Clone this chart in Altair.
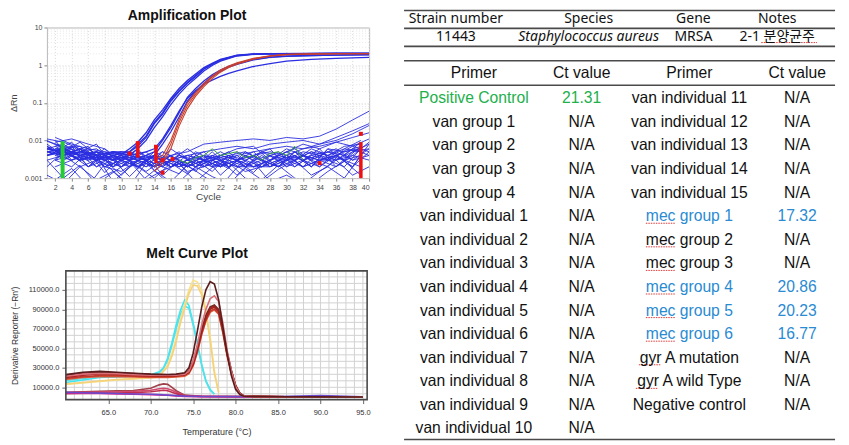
import altair as alt
import pandas as pd

# ---------------- Amplification plot data (ΔRn) ----------------
ODD = [1, 3, 5, 7, 9, 11, 13, 15, 17, 19, 21, 23, 25, 27, 29, 31, 33, 35, 37, 39]
EVEN = [2, 4, 6, 8, 10, 12, 14, 16, 18, 20, 22, 24, 26, 28, 30, 32, 34, 36, 38, 40]

# background wells, values in thousandths of ΔRn
NOISE_ODD = [
    [9.5, 7, 5, 6, 3, 4, 2, 5, 3, 1.5, 4, 3, 2, 5, 3, 4, 2, 6, 3, 7],
    [6, 8, 4, 2, 4, 3, 5, 2, 4, 3, 2, 4, 3, 2, 4, 6, 3, 5, 4, 9],
    [10, 6, 7, 3, 2, 5, 3, 4, 2, 5, 3, 1.8, 5, 3, 2, 3, 6, 4, 7, 8],
    [4, 5, 9, 4, 3, 2, 4, 1.2, 3, 2, 5, 2, 4, 3, 5, 2, 4, 3, 5, 6],
    [7, 3, 5, 8, 2, 3, 1.5, 3, 5, 2, 3, 5, 2, 4, 2, 5, 3, 2, 6, 5],
    [3, 4, 2, 3, 4, 2, 3, 2, 1.3, 4, 2, 3, 1.5, 2, 3, 2, 4, 5, 3, 4],
    [11, 9, 6, 4, 5, 3, 2, 3, 2, 3, 4, 2, 3, 5, 4, 3, 5, 4, 6, 10],
    [5, 6, 3, 5, 2, 4, 3, 5, 3, 2, 3, 4, 5, 3, 2, 4, 2, 6, 5, 7],
    [8, 4, 6, 2, 3, 1.1, 3, 2, 4, 2.5, 3, 2, 4, 2, 3, 3, 5, 3, 2, 6],
    [2, 5, 3, 4, 0.8, 2, 4, 3, 2, 3, 1.5, 4, 2, 3, 2, 5, 2, 4, 3, 2],
    [1.2, 0.7, 2, 0.9, 1.5, 0.6, 2.5, 1, 0.8, 2, 1.1, 0.7, 1.8, 0.9, 2.2, 1, 0.7, 1.5, 2.8, 1.2],
    [3, 1, 2.2, 0.7, 1.4, 2.8, 0.9, 1.6, 2.4, 0.8, 1.9, 2.6, 1, 0.8, 1.7, 3, 1.2, 2, 1, 4],
]
NOISE_EVEN = [
    [2, 3, 4, 2, 1.5, 3, 2, 3, 2, 4, 1.2, 3, 2, 3, 4, 2, 3, 2, 4, 3],
    [8, 5, 7, 2, 3, 2, 4, 3, 6, 3, 2, 3, 2, 2, 3, 4, 3, 4, 2, 5],
    [6, 7, 4, 3, 5, 4, 2, 4, 2, 3, 5, 3, 4, 2, 3, 5, 4, 3, 5, 8],
    [12, 8, 6, 5, 4, 3, 4, 2, 3, 2, 3, 2, 2, 3, 5, 3, 2, 5, 3, 6],
    [5, 9, 3, 6, 2, 5, 3, 2, 4, 3, 2, 5, 3, 4, 3, 2, 5, 3, 4, 9],
    [3, 2, 5, 1.4, 4, 2, 5, 3, 2, 4, 3, 2, 4, 6, 2, 3, 4, 6, 3, 4],
    [7, 4, 6, 3, 2, 4, 2, 6, 3, 2, 4, 3, 5, 2, 4, 3, 6, 2, 5, 6],
    [4, 6, 2, 4, 5, 1.8, 4, 2, 3, 5, 2, 4, 2, 3, 6, 4, 2, 4, 7, 5],
    [10, 3, 5, 3, 1.2, 3, 2, 4, 1.5, 2, 3, 1.2, 3, 2, 4, 2, 3, 4, 2, 8],
    [3, 7, 2, 5, 3, 6, 1.6, 3, 2, 3, 2, 3, 1.4, 4, 2, 4, 3, 3, 6, 4],
    [0.9, 1.8, 0.6, 2.4, 1, 0.7, 1.6, 0.8, 2.2, 1.1, 0.6, 1.9, 2.7, 0.8, 1.2, 0.7, 1.5, 3, 1.2, 2],
    [9, 11, 8, 6, 3, 2, 1, 2.5, 1.3, 3, 4, 6, 7, 3, 5, 8, 6, 9, 7, 11],
]
RISING_EVEN = [
    [5, 4, 3, 4, 3, 2, 3, 4, 5, 8, 9, 10, 11, 10, 12, 11, 13, 20, 35, 60],
    [4, 3, 5, 2, 3, 4, 2, 3, 4, 5, 6, 7, 6, 8, 9, 10, 8, 12, 18, 28],
    [6, 5, 4, 3, 2, 3, 4, 2, 3, 4, 3, 4, 5, 6, 7, 6, 8, 10, 15, 25],
    [3, 4, 2, 3, 4, 3, 2, 3, 4, 3, 4, 3, 4, 5, 4, 6, 7, 9, 12, 16],
]
GREEN_CYCLES = [17, 18, 19, 20, 21, 22, 23, 24, 25, 26, 27, 28, 29, 30, 31, 32]
GREEN_VALUES = [3, 2.5, 3.5, 4, 6, 4, 4.5, 5, 3.5, 4, 3, 4.5, 5, 4, 7, 3]

# amplified wells (ΔRn)
AMP_A_CYCLES = [1, 3, 5, 7, 9, 11, 12, 13, 14, 15, 16, 17, 18, 19, 20, 21, 22, 24, 26, 28, 32, 36, 40]
AMP_A = [
    [0.006, 0.005, 0.004, 0.005, 0.004, 0.005, 0.007, 0.012, 0.028, 0.05, 0.11, 0.2, 0.33, 0.5, 0.78, 1.05, 1.35, 1.8, 1.95, 2.0, 2.02, 2.04, 2.05],
    [0.005, 0.006, 0.004, 0.003, 0.005, 0.004, 0.006, 0.01, 0.022, 0.042, 0.09, 0.17, 0.29, 0.45, 0.7, 0.98, 1.28, 1.75, 1.92, 1.98, 2.0, 2.02, 2.03],
    [0.007, 0.004, 0.005, 0.004, 0.003, 0.006, 0.009, 0.016, 0.035, 0.065, 0.13, 0.24, 0.39, 0.58, 0.86, 1.12, 1.42, 1.85, 1.98, 2.02, 2.05, 2.07, 2.08],
    [0.004, 0.005, 0.003, 0.004, 0.005, 0.005, 0.008, 0.013, 0.03, 0.055, 0.12, 0.21, 0.35, 0.53, 0.8, 1.08, 1.38, 1.82, 1.96, 2.0, 2.03, 2.05, 2.06],
]
AMP_B_CYCLES = [1, 3, 5, 7, 9, 11, 13, 14, 15, 16, 17, 18, 19, 20, 21, 22, 23, 24, 26, 28, 30, 33, 36, 40]
AMP_B = [
    [0.005, 0.004, 0.006, 0.003, 0.004, 0.003, 0.004, 0.005, 0.01, 0.022, 0.055, 0.14, 0.24, 0.38, 0.55, 0.74, 0.93, 1.1, 1.42, 1.63, 1.73, 1.8, 1.85, 1.9],
    [0.004, 0.006, 0.004, 0.005, 0.003, 0.004, 0.005, 0.006, 0.011, 0.025, 0.06, 0.13, 0.21, 0.31, 0.4, 0.5, 0.6, 0.7, 0.92, 1.1, 1.27, 1.42, 1.52, 1.6],
    [0.006, 0.005, 0.003, 0.004, 0.005, 0.004, 0.003, 0.004, 0.008, 0.017, 0.042, 0.11, 0.2, 0.33, 0.5, 0.68, 0.88, 1.05, 1.38, 1.6, 1.72, 1.8, 1.84, 1.88],
]
AMP_R_CYCLES = [14, 15, 16, 17, 18, 19, 20, 21, 22, 23, 24, 26, 28, 30, 33, 36, 40]
AMP_R = [
    [0.002, 0.003, 0.008, 0.03, 0.085, 0.17, 0.3, 0.48, 0.7, 0.9, 1.1, 1.48, 1.74, 1.92, 1.98, 2.0, 2.02],
    [0.0015, 0.0025, 0.006, 0.024, 0.07, 0.15, 0.27, 0.44, 0.65, 0.86, 1.05, 1.44, 1.72, 1.9, 1.97, 2.0, 2.01],
    [0.003, 0.004, 0.01, 0.036, 0.1, 0.19, 0.33, 0.52, 0.74, 0.95, 1.15, 1.52, 1.77, 1.93, 1.99, 2.01, 2.03],
]
# Ct markers
RED_BAR_CYCLES = [12, 14.2, 39]
RED_BAR_LOW = [0.0035, 0.0025, 0.001]
RED_BAR_HIGH = [0.0085, 0.0065, 0.009]
RED_SQ_CYCLES = [11, 12, 14.2, 15, 15, 16.2, 34, 39]
RED_SQ_VALUES = [0.0045, 0.0085, 0.0068, 0.003, 0.0014, 0.0032, 0.0025, 0.015]
GREEN_BAR_CYCLE = [2.9]
GREEN_BAR_LOW = [0.001]
GREEN_BAR_HIGH = [0.0095]

# ---------------- Melt curve data (Derivative reporter) ----------------
MAIN_T = [60, 62, 64, 66, 68, 70, 72, 73, 74, 74.5, 75, 75.5, 76, 76.5, 77, 77.5, 78, 78.5, 79, 79.5, 80, 80.5, 81, 83, 86, 90, 95]
MAIN_CURVES = {
    "m_orange": [18000, 20000, 21000, 21000, 20500, 20000, 20000, 20500, 21500, 24000, 32000, 46000, 64000, 78000, 87000, 89500, 85000, 66000, 42000, 24000, 10000, 3200, 800, 500, 300, 200, 100],
    "m3": [19000, 21000, 22000, 22000, 21500, 21000, 21000, 21500, 22500, 25000, 33000, 47000, 65000, 79000, 88000, 90500, 86000, 67000, 43000, 25000, 11000, 3500, 900, 500, 300, 200, 100],
    "m2": [21000, 23000, 24000, 23500, 22500, 22000, 21800, 22000, 23000, 25500, 34000, 49000, 67000, 81000, 90000, 92500, 88000, 69000, 44000, 26000, 11500, 3800, 900, 500, 300, 200, 100],
    "m1": [20000, 22500, 24300, 24000, 23200, 23000, 22800, 22900, 23500, 26000, 35000, 50000, 68000, 82000, 91000, 93500, 89000, 70000, 45000, 27000, 12000, 4000, 1000, 500, 300, 200, 100],
    "m7": [22000, 24500, 25500, 25000, 24000, 23000, 22500, 22800, 23800, 27000, 37000, 52000, 70000, 84000, 92500, 94500, 90000, 71000, 46000, 27500, 12000, 4000, 1000, 500, 300, 200, 100],
    "m_pink": [21500, 23500, 24500, 24000, 23000, 22500, 22300, 22500, 23500, 26500, 37000, 54000, 74000, 90000, 101000, 104000, 98000, 76000, 48000, 27000, 11000, 3500, 900, 500, 300, 200, 100],
    "m_dark": [23000, 25500, 26400, 25500, 24500, 23500, 23200, 23500, 25000, 30000, 45000, 68000, 92000, 110000, 118500, 116000, 100000, 72000, 45000, 22000, 8000, 2500, 800, 500, 300, 200, 100],
}
MAIN_COLORS = {"m_orange": "#e2603c", "m3": "#c0392b", "m2": "#a51d1d", "m1": "#b22222",
               "m7": "#7a2a22", "m_pink": "#d8707a", "m_dark": "#5a1c1c"}
CYAN_T = [60, 62, 64, 66, 68, 70, 71, 71.5, 72, 72.5, 73, 73.5, 74, 74.5, 75, 75.5, 76, 76.5, 77, 77.5]
CYAN_CURVES = {
    "c1": [15000, 17500, 20000, 21000, 21300, 23000, 26000, 30000, 40000, 56000, 74000, 89000, 99500, 94000, 76000, 56000, 34000, 17000, 8000, 3200],
    "c2": [17000, 19000, 20500, 21000, 21500, 22500, 25000, 29000, 38000, 53000, 70000, 85000, 93500, 91000, 74000, 54000, 32000, 16000, 7000, 3000],
}
CYAN_COLORS = {"c1": "#3ee8f0", "c2": "#55e0ea"}
YELLOW_T = [60, 62, 64, 66, 68, 70, 71, 72, 72.5, 73, 73.5, 74, 74.5, 75, 75.5, 76, 76.5, 77, 77.5, 78]
YELLOW_CURVES = {
    "y1": [12800, 14500, 16000, 17500, 18600, 19500, 21000, 33000, 45000, 60000, 80000, 95000, 110000, 120000, 118000, 109000, 90000, 62000, 27000, 5000],
    "y2": [13500, 15000, 16500, 18000, 19000, 20000, 21500, 31000, 42000, 57000, 76000, 91000, 106000, 115000, 114000, 105000, 86000, 58000, 24000, 4500],
}
YELLOW_COLORS = {"y1": "#f8e08c", "y2": "#f5d27a"}
LOW_T = [60, 62, 64, 66, 68, 70, 71, 71.5, 72, 72.5, 73, 74, 76, 80, 85, 90, 95]
LOW_CURVES = {
    "l1": [5000, 5500, 6000, 6300, 6800, 9000, 12500, 13500, 13000, 10000, 6500, 2000, 800, 500, 300, 200, 100],
    "l2": [4500, 5000, 5200, 5500, 6000, 7000, 8500, 9000, 8500, 7000, 5000, 1500, 600, 400, 300, 200, 100],
    "l3": [3500, 3800, 4000, 4200, 4500, 5500, 6500, 7000, 6500, 5000, 3500, 1200, 500, 400, 300, 200, 100],
    "l4": [4300, 4000, 3600, 3300, 3000, 2500, 2200, 2000, 1800, 1500, 1200, 700, 400, 300, 200, 150, 100],
    "l5": [4800, 4400, 4000, 3600, 3200, 2800, 2500, 2200, 2000, 1800, 1500, 900, 500, 400, 500, 1500, 300],
}
LOW_COLORS = {"l1": "#a0404a", "l2": "#d04a70", "l3": "#c03050", "l4": "#e8208c", "l5": "#6a4ac8"}

# ---------------- Table data ----------------
TOP_HEADERS = ["Strain number", "Species", "Gene", "Notes"]
TOP_ROW = ["11443", "Staphylococcus aureus", "MRSA", "2-1 분양균주"]
TABLE_HEADERS = ["Primer", "Ct value", "Primer", "Ct value"]
PRIMERS_LEFT = ["Positive Control", "van group 1", "van group 2", "van group 3", "van group 4",
                "van individual 1", "van individual 2", "van individual 3", "van individual 4",
                "van individual 5", "van individual 6", "van individual 7", "van individual 8",
                "van individual 9", "van individual 10"]
CT_LEFT = ["21.31"] + ["N/A"] * 14
PRIMERS_RIGHT = ["van individual 11", "van individual 12", "van individual 13", "van individual 14",
                 "van individual 15", "mec group 1", "mec group 2", "mec group 3", "mec group 4",
                 "mec group 5", "mec group 6", "gyr A mutation", "gyr A wild Type", "Negative control"]
CT_RIGHT = ["N/A", "N/A", "N/A", "N/A", "N/A", "17.32", "N/A", "N/A", "20.86", "20.23", "16.77",
            "N/A", "N/A", "N/A"]

GREEN = "#22b04c"
BLUE_TXT = "#2a8ad2"
LINE_BLUE = "#2a2ee0"
LINE_RED = "#c8402e"
AX_FONT = "Liberation Sans"

# ================= Amplification chart =================
def long_df(xs_list, vals_list, xname, yname, scale=1.0, prefix="s"):
    rows = []
    for i, (xs, vals) in enumerate(zip(xs_list, vals_list)):
        for k, (x, v) in enumerate(zip(xs, vals)):
            rows.append({"series": f"{prefix}{i}", xname: x, yname: v * scale, "k": k})
    return pd.DataFrame(rows)

noise_df = pd.concat([
    long_df([ODD] * len(NOISE_ODD), NOISE_ODD, "cycle", "drn", 0.001, "o"),
    long_df([EVEN] * len(NOISE_EVEN), NOISE_EVEN, "cycle", "drn", 0.001, "e"),
    long_df([EVEN] * len(RISING_EVEN), RISING_EVEN, "cycle", "drn", 0.001, "r"),
])
green_df = long_df([GREEN_CYCLES], [GREEN_VALUES], "cycle", "drn", 0.001, "g")
blue_amp_df = pd.concat([
    long_df([AMP_A_CYCLES] * len(AMP_A), AMP_A, "cycle", "drn", 1.0, "a"),
    long_df([AMP_B_CYCLES] * len(AMP_B), AMP_B, "cycle", "drn", 1.0, "b"),
])
red_amp_df = long_df([AMP_R_CYCLES] * len(AMP_R), AMP_R, "cycle", "drn", 1.0, "red")

amp_x = alt.X("cycle:Q", scale=alt.Scale(domain=[1, 40], nice=False, zero=False),
              axis=alt.Axis(values=EVEN, tickCount=100, format="d", title="Cycle",
                            labelFont=AX_FONT, labelFontSize=7, labelColor="#444",
                            titleFont=AX_FONT, titleFontSize=10, titleColor="#444", titleFontWeight="normal",
                            titlePadding=1, tickSize=3, labelPadding=2, labelOverlap=False,
                            domain=False, tickColor="#888",
                            grid=True, gridColor="#d8d8d8", gridDash=[1, 2]))
amp_y = alt.Y("drn:Q", scale=alt.Scale(type="log", domain=[0.001, 10], nice=False),
              axis=alt.Axis(values=[0.001, 0.01, 0.1, 1, 10], tickCount=100, title="ΔRn", format="~g",
                            labelFont=AX_FONT, labelFontSize=7, labelColor="#444",
                            titleFont=AX_FONT, titleFontSize=9, titleColor="#444", titleFontWeight="normal",
                            titlePadding=6, tickSize=3, labelPadding=2, labelOverlap=False,
                            domain=False, tickColor="#888",
                            grid=True, gridColor="#d8d8d8", gridDash=[1, 2]))

# minor (log) grid lines between decades
amp_minor_df = pd.DataFrame({"drn": [m * d for d in [0.001, 0.01, 0.1, 1] for m in range(2, 10)]})
amp_minor = alt.Chart(amp_minor_df).mark_rule(color="#e6e6e6", strokeWidth=1, strokeDash=[1, 2]).encode(
    y=amp_y)
noise_layer = alt.Chart(noise_df).mark_line(color=LINE_BLUE, strokeWidth=0.9, clip=True).encode(
    x=amp_x, y="drn:Q", detail="series:N", order="k:Q")
green_layer = alt.Chart(green_df).mark_line(color="#3aa040", strokeWidth=1, clip=True).encode(
    x="cycle:Q", y="drn:Q", detail="series:N", order="k:Q")
blue_layer = alt.Chart(blue_amp_df).mark_line(color=LINE_BLUE, strokeWidth=1.3, clip=True).encode(
    x="cycle:Q", y="drn:Q", detail="series:N", order="k:Q")
red_layer = alt.Chart(red_amp_df).mark_line(color=LINE_RED, strokeWidth=1.1, clip=True).encode(
    x="cycle:Q", y="drn:Q", detail="series:N", order="k:Q")
redbar_df = pd.DataFrame({"cycle": RED_BAR_CYCLES, "drn": RED_BAR_LOW, "drn2": RED_BAR_HIGH})
redbar_layer = alt.Chart(redbar_df).mark_rule(color="#ee1111", strokeWidth=3.5).encode(
    x="cycle:Q", y="drn:Q", y2="drn2:Q")
greenbar_df = pd.DataFrame({"cycle": GREEN_BAR_CYCLE, "drn": GREEN_BAR_LOW, "drn2": GREEN_BAR_HIGH})
greenbar_layer = alt.Chart(greenbar_df).mark_rule(color="#22cc33", strokeWidth=4).encode(
    x="cycle:Q", y="drn:Q", y2="drn2:Q")
redsq_df = pd.DataFrame({"cycle": RED_SQ_CYCLES, "drn": RED_SQ_VALUES})
redsq_layer = alt.Chart(redsq_df).mark_square(color="#ee1111", opacity=1, size=16).encode(
    x="cycle:Q", y="drn:Q")

amp = alt.layer(amp_minor, noise_layer, green_layer, blue_layer, red_layer, greenbar_layer,
                redbar_layer, redsq_layer).properties(
    width=323, height=151,
    title=alt.TitleParams("Amplification Plot", font=AX_FONT, fontSize=14, fontWeight="bold",
                          color="#111", offset=0, dx=-21),
    view=alt.ViewBackground(stroke="#b8b8b8", strokeWidth=1),
)

# ================= Melt curve chart =================
def melt_df_of(temps, curves, colors):
    rows = []
    for name, vals in curves.items():
        for k, (t, v) in enumerate(zip(temps, vals)):
            rows.append({"series": name, "temp": t, "deriv": v, "k": k, "clr": colors[name]})
    return pd.DataFrame(rows)

MELT_X_DOMAIN = [60, 95.5]
MELT_Y_DOMAIN = [-2600, 129500]
MELT_SHIFT = 19   # the melt plot sits further right than the amplification plot
MELT_W = 321

melt_x = alt.X("temp:Q", scale=alt.Scale(domain=MELT_X_DOMAIN, range=[MELT_SHIFT, MELT_W], nice=False, zero=False),
               axis=alt.Axis(values=[65, 70, 75, 80, 85, 90, 95], tickCount=100, title="Temperature (°C)",
                             format=".1f",
                             labelFont=AX_FONT, labelFontSize=7.5, labelColor="#333",
                             titleFont=AX_FONT, titleFontSize=9, titleColor="#333", titleFontWeight="normal",
                             titlePadding=12, tickSize=4, labelPadding=5, labelOverlap=False,
                             domain=False, tickColor="#666", grid=False))
melt_y = alt.Y("deriv:Q", scale=alt.Scale(domain=MELT_Y_DOMAIN, nice=False, zero=False),
               axis=alt.Axis(values=[10000, 30000, 50000, 70000, 90000, 110000], tickCount=100,
                             title="Derivative Reporter (−Rn′)", format=".1f", offset=-MELT_SHIFT,
                             labelFont=AX_FONT, labelFontSize=7.5, labelColor="#333",
                             titleFont=AX_FONT, titleFontSize=8.5, titleColor="#333", titleFontWeight="normal",
                             titlePadding=9, tickSize=4, labelPadding=3, labelOverlap=False,
                             domain=False, tickColor="#666", grid=False))

# grid lines every degree and every third of 20000
vgrid_df = pd.DataFrame({"temp": list(range(61, 96))})
hgrid_df = pd.DataFrame({"deriv": [10000 + k * 20000 / 3 for k in range(-1, 18)]})
hgrid_df["t0"] = MELT_X_DOMAIN[0]
hgrid_df["t1"] = MELT_X_DOMAIN[1]
frame_df = pd.DataFrame({"temp": [MELT_X_DOMAIN[0]], "temp2": [MELT_X_DOMAIN[1]],
                         "deriv": [MELT_Y_DOMAIN[0]], "deriv2": [MELT_Y_DOMAIN[1]]})

vgrid = alt.Chart(vgrid_df).mark_rule(color="#d2d2d2", strokeWidth=1).encode(x=melt_x)
hgrid = alt.Chart(hgrid_df).mark_rule(color="#d2d2d2", strokeWidth=1).encode(
    x=alt.X("t0:Q"), x2="t1:Q", y=melt_y)
frame = alt.Chart(frame_df).mark_rect(fillOpacity=0, stroke="#4a4a4a", strokeWidth=1.6).encode(
    x="temp:Q", x2="temp2:Q", y="deriv:Q", y2="deriv2:Q")

def melt_layer(df):
    return alt.Chart(df).mark_line(strokeWidth=1.6, clip=True).encode(
        x="temp:Q", y="deriv:Q",
        color=alt.Color("clr:N", scale=None),
        detail="series:N",
        order="k:Q",
    )

melt = alt.layer(
    vgrid, hgrid,
    melt_layer(melt_df_of(LOW_T, LOW_CURVES, LOW_COLORS)),
    melt_layer(melt_df_of(CYAN_T, CYAN_CURVES, CYAN_COLORS)),
    melt_layer(melt_df_of(YELLOW_T, YELLOW_CURVES, YELLOW_COLORS)),
    melt_layer(melt_df_of(MAIN_T, MAIN_CURVES, MAIN_COLORS)),
    frame,
).properties(
    width=MELT_W, height=129,
    title=alt.TitleParams("Melt Curve Plot", font=AX_FONT, fontSize=14, fontWeight="bold",
                          color="#111", offset=9, dx=-10),
    view=alt.ViewBackground(stroke="transparent"),
)

# ================= Table =================
# layout: second-table columns at 0..3, rows at 0..14; other positions in the same units
TOP_COL_X = [-0.167, 1.065, 2.037, 2.815]
TOP_HEAD_Y, TOP_ROW_Y, HEAD_Y = -3.34, -2.58, -1.06
LINE_Y = [-3.72, -2.96, -2.20, -1.59, -0.55, 14.47]
LINE_X0, LINE_X1 = -0.648, 3.352
TABLE_TOP_ROW = -3.0     # row value at the top of the table's plot area (level with the amplification plot)
TABLE_BOTTOM_ROW = 14.51
ROW_PX = 23.64

# red spell-check underlines (word spans in column units) under "mec", "gyr" and "분양균주"
SPELL_ROWS = [5, 6, 7, 8, 9, 10, 11, 12, TOP_ROW_Y]
SPELL_X0 = [1.596, 1.596, 1.596, 1.596, 1.596, 1.596, 1.531, 1.503, 2.667]
SPELL_X1 = [1.871, 1.871, 1.871, 1.871, 1.871, 1.871, 1.733, 1.705, 3.185]
SPELL_DY = [0.3, 0.3, 0.3, 0.3, 0.3, 0.3, 0.3, 0.3, 0.22]

tx = alt.X("x:Q", scale=alt.Scale(domain=[-0.676, 3.398], nice=False, zero=False), axis=None)
ty = alt.Y("y:Q", scale=alt.Scale(domain=[TABLE_TOP_ROW, TABLE_BOTTOM_ROW], nice=False, zero=False, reverse=True),
           axis=None)

lines_df = pd.DataFrame({"y": LINE_Y, "x": [LINE_X0] * len(LINE_Y), "x2": [LINE_X1] * len(LINE_Y)})
rules = alt.Chart(lines_df).mark_rule(color="#4a4a4a", strokeWidth=1.6).encode(x=tx, x2="x2:Q", y=ty)

spell_df = pd.DataFrame({"y": [r + d for r, d in zip(SPELL_ROWS, SPELL_DY)], "x": SPELL_X0, "x2": SPELL_X1})
spell = alt.Chart(spell_df).mark_rule(color="#e03a3a", strokeWidth=1, strokeDash=[1.5, 1]).encode(
    x=tx, x2="x2:Q", y=ty)

body = []
for i, h in enumerate(TABLE_HEADERS):
    body.append({"x": i, "y": HEAD_Y, "t": h, "c": "#111"})
for i, (p, ct) in enumerate(zip(PRIMERS_LEFT, CT_LEFT)):
    c = GREEN if ct != "N/A" else "#111"
    body.append({"x": 0, "y": i, "t": p, "c": c})
    body.append({"x": 1, "y": i, "t": ct, "c": c})
for i, (p, ct) in enumerate(zip(PRIMERS_RIGHT, CT_RIGHT)):
    c = BLUE_TXT if ct != "N/A" else "#111"
    body.append({"x": 2, "y": i, "t": p, "c": c})
    body.append({"x": 3, "y": i, "t": ct, "c": c})
body_df = pd.DataFrame(body)
body_text = alt.Chart(body_df).mark_text(font="Liberation Sans", fontSize=15.7, baseline="middle",
                                         align="center").encode(
    x=tx, y=ty, text="t:N", color=alt.Color("c:N", scale=None))

top = []
for i, h in enumerate(TOP_HEADERS):
    top.append({"x": TOP_COL_X[i], "y": TOP_HEAD_Y, "t": h, "it": False})
for i, v in enumerate(TOP_ROW):
    top.append({"x": TOP_COL_X[i], "y": TOP_ROW_Y, "t": v, "it": i == 1})
top_df = pd.DataFrame(top)
top_text = alt.Chart(top_df).transform_filter("!datum.it").mark_text(
    font="Noto Sans, Noto Sans CJK KR", fontSize=14, baseline="middle", align="center", color="#111").encode(
    x=tx, y=ty, text="t:N")
top_italic = alt.Chart(top_df).transform_filter("datum.it").mark_text(
    font="Noto Sans", fontSize=14, fontStyle="italic", baseline="middle", align="center", color="#111").encode(
    x=tx, y=ty, text="t:N")

table = alt.layer(rules, spell, top_text, top_italic, body_text).properties(
    width=440, height=round((TABLE_BOTTOM_ROW - TABLE_TOP_ROW) * ROW_PX),
    view=alt.ViewBackground(stroke="transparent"))

left = alt.vconcat(amp, melt, spacing=44)
chart = alt.hconcat(left, table, spacing=29).properties(padding=0).configure(background="white")

chart.save("out.html", embed_options={"renderer": "svg", "actions": False})
